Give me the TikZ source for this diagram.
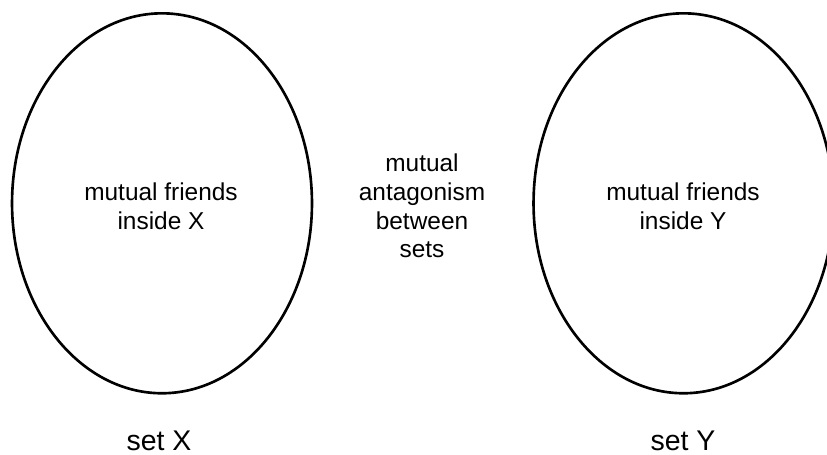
\documentclass[tikz,border=0pt]{standalone}
\usepackage{fontspec}
\setmainfont{Liberation Sans}
\tikzset{
    setline/.style={line width=1.5pt},
    inner/.style={align=center, font=\fontsize{13.9}{16.4}\selectfont},
    setname/.style={anchor=base, font=\fontsize{16.2}{19}\selectfont}
}
\begin{document}
\begin{tikzpicture}[x=0.02cm, y=-0.02cm]
    \useasboundingbox (0,0) rectangle (827,455);
    \begin{scope}
    \clip (0,0) rectangle (827,455);
    \draw[setline] (162,203.3) ellipse[x radius=3cm, y radius=3.8cm];
    \draw[setline] (683.5,203.3) ellipse[x radius=3cm, y radius=3.8cm];
    \end{scope}
    \node[inner] (friendsX) at (161,206) {mutual friends\\inside X};
    \node[inner] (friendsY) at (683,206) {mutual friends\\inside Y};
    \node[inner] (antag) at (422,206) {mutual\\antagonism\\between\\sets};
    \node[setname] (setX) at (159,450) {set X};
    \node[setname] (setY) at (683,450) {set Y};
\end{tikzpicture}
\end{document}
